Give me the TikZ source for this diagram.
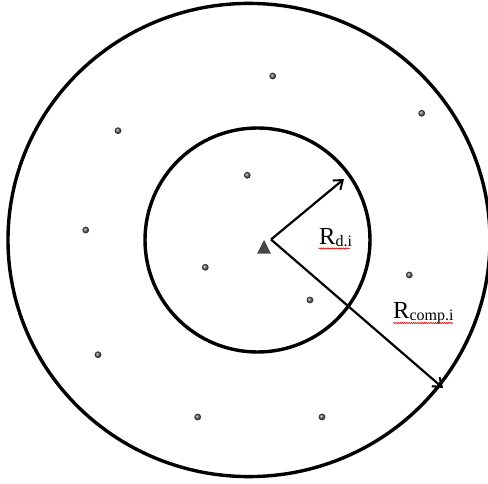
\documentclass[tikz,border=0pt]{standalone}
\usepackage{fontspec}
\setmainfont{Liberation Serif}
\usetikzlibrary{arrows.meta,decorations.pathmorphing,shadings}
\tikzset{
  ring/.style={draw=black,line width=3.4pt},
  radius arrow/.style={draw=black,line width=2.2pt,-{Straight Barb[length=8pt,width=12pt,line width=2pt]}},
  pt/.style={circle,inner sep=0pt,minimum size=6pt,draw=black!80,line width=0.7pt,ball color=black!60},
  spell/.style={draw=red!85!black,line width=0.6pt,decorate,decoration={snake,amplitude=0.6pt,segment length=2.2pt}},
  lbl/.style={anchor=base west,inner sep=0pt,font=\fontsize{24.5}{24.5}\selectfont}
}
\newcommand{\subtxt}[1]{\raisebox{-1.5pt}{\fontsize{16}{16}\selectfont #1}}
\begin{document}
\begin{tikzpicture}[x=1pt,y=-1pt]
\useasboundingbox (0,0) rectangle (488,484);
\fill[white] (0,0) rectangle (488,484);
% circles
\draw[ring] (249,240) ellipse [x radius=241, y radius=236.6];
\draw[ring] (257.5,240) ellipse [x radius=112.5, y radius=112];
% points
\node[pt] (p1) at (272.7,76) {};
\node[pt] (p2) at (421.7,113.3) {};
\node[pt] (p3) at (118,130.7) {};
\node[pt] (p4) at (247.3,175.3) {};
\node[pt] (p5) at (85.7,230) {};
\node[pt] (p6) at (205.3,267.3) {};
\node[pt] (p7) at (409.3,275) {};
\node[pt] (p8) at (310,300) {};
\node[pt] (p9) at (98,354.7) {};
\node[pt] (p10) at (197.7,417) {};
\node[pt] (p11) at (322,417) {};
% station triangle
\fill[black!72,draw=black!80,line width=0.4pt] (257.5,253.5) -- (264,240.5) -- (270.5,253.5) -- cycle;
% arrows
\coordinate (c) at (271,239.5);
\coordinate (e1) at (344,179);
\coordinate (e2) at (443,388);
\draw[radius arrow] (c) -- (e1);
\draw[radius arrow] (c) -- (e2);
% labels
\node[lbl] (ld) at (319,245) {R\subtxt{d.i}};
\node[lbl] (lc) at (393,319) {R\subtxt{comp.i}};
\draw[spell] (318.5,248.5) -- (349.5,248.5);
\draw[spell] (393,323) -- (453,323);
\end{tikzpicture}
\end{document}
